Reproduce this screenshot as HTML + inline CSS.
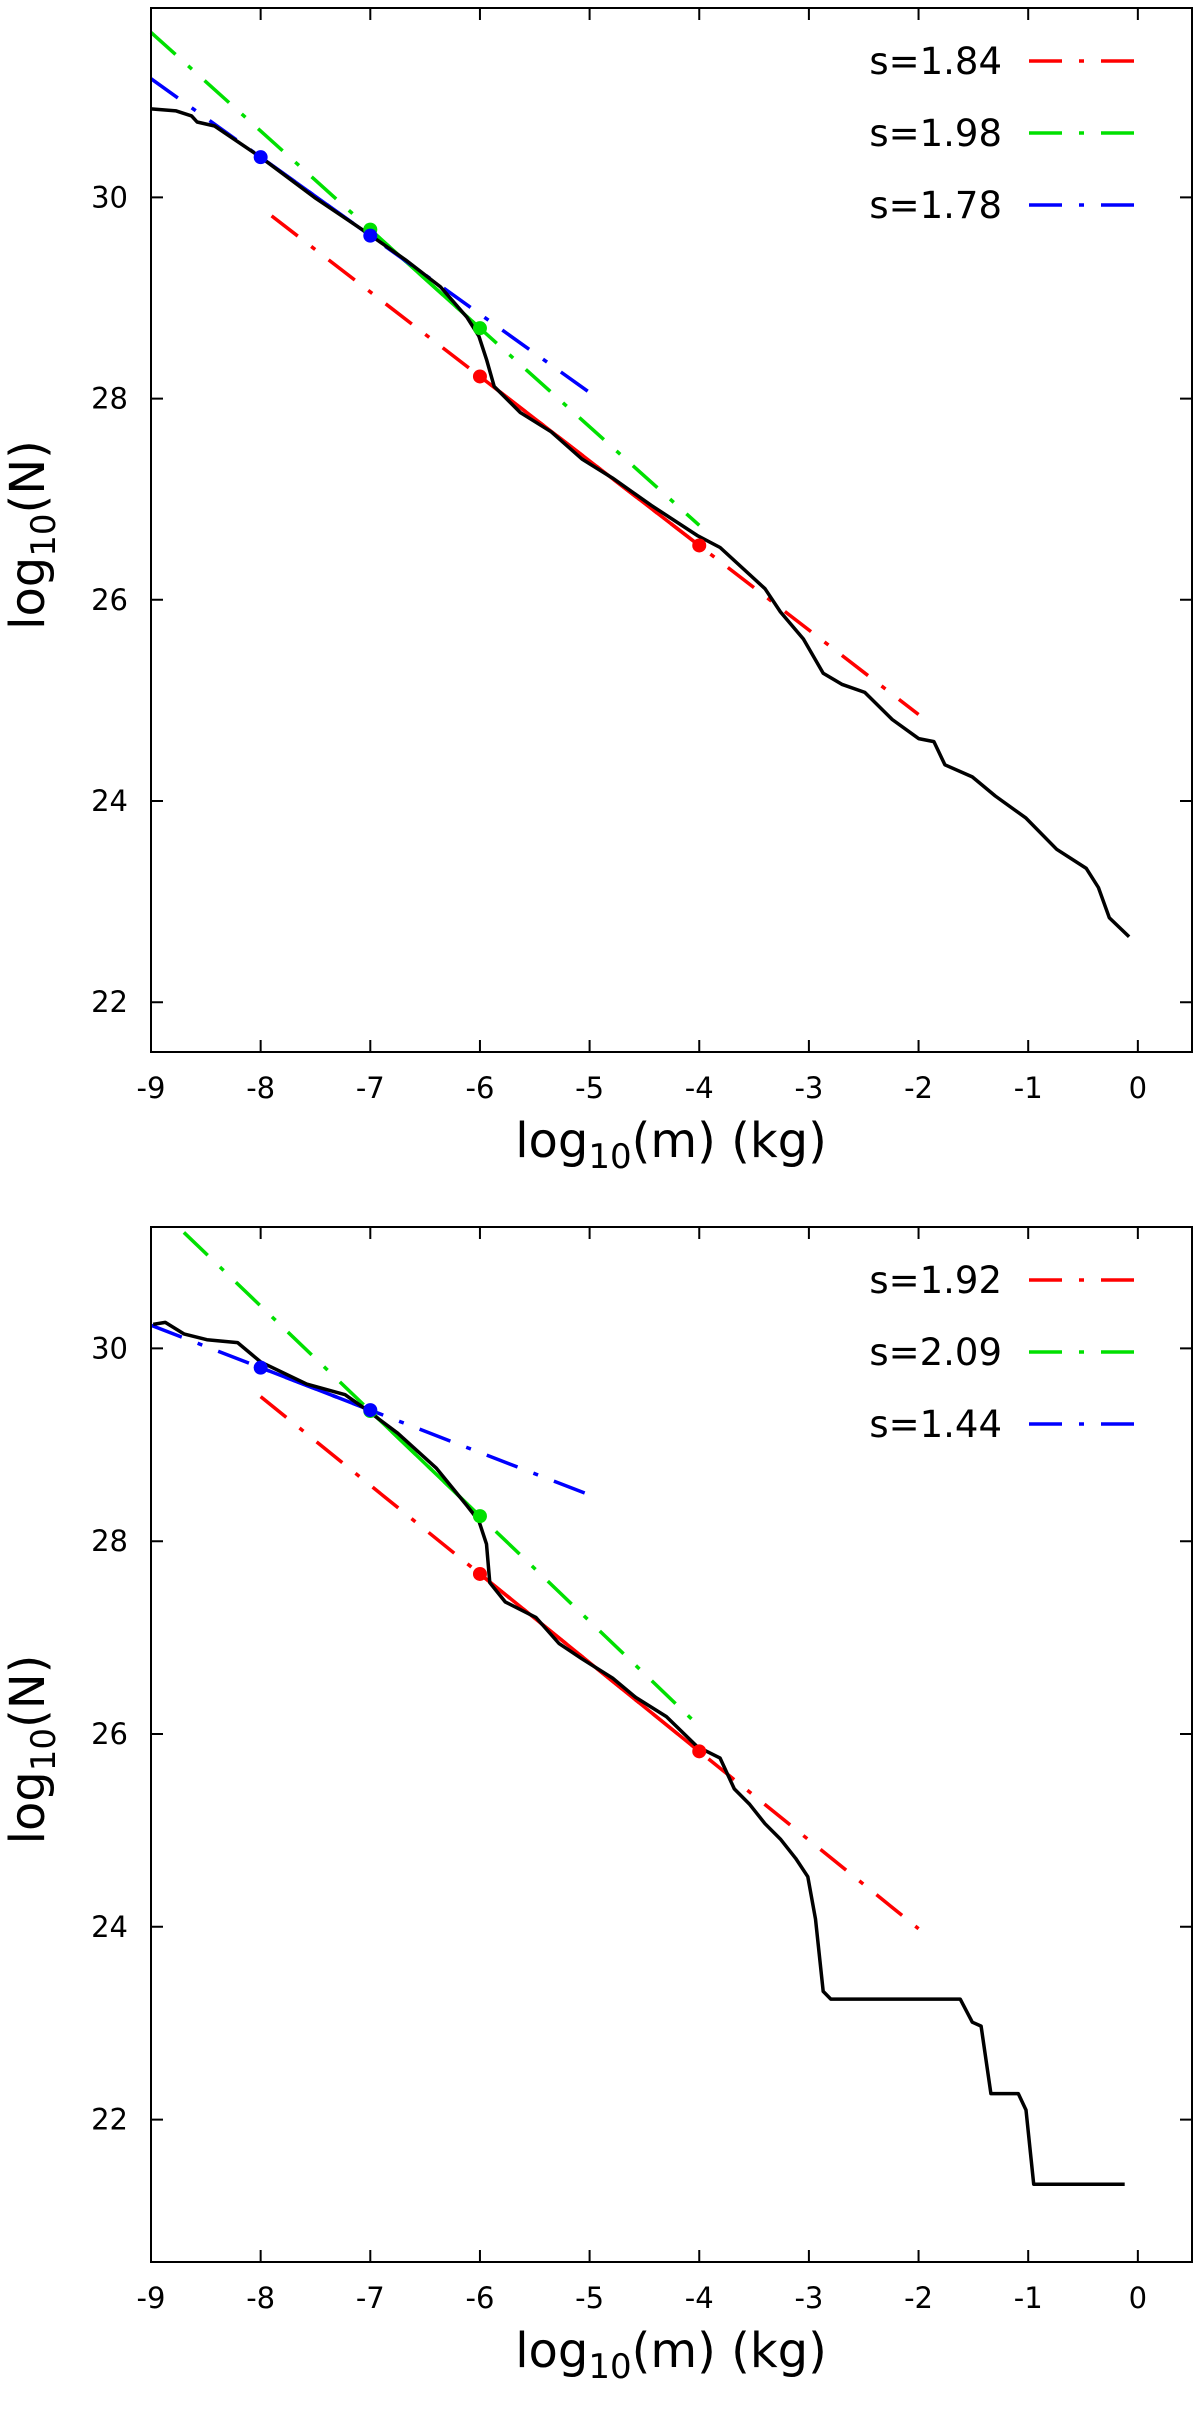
<!DOCTYPE html>
<html><head><meta charset="utf-8"><style>
body{margin:0;background:#fff}
svg{display:block;font-family:"DejaVu Sans","Liberation Sans",sans-serif}
</style></head><body>
<svg id="chart" width="1200" height="2419" viewBox="0 0 1200 2419" xmlns="http://www.w3.org/2000/svg"></svg>
<script>
const xTicks=[-9,-8,-7,-6,-5,-4,-3,-2,-1,0];
const yTicks=[22,24,26,28,30];
// top panel
const topCurveX=[-9,-8.77,-8.63,-8.58,-8.42,-8.0,-7.51,-7.02,-6.68,-6.36,-6.12,-6.01,-5.94,-5.87,-5.63,-5.35,-5.07,-4.79,-4.44,-4.02,-3.81,-3.40,-3.26,-3.05,-2.87,-2.70,-2.49,-2.24,-2.0,-1.86,-1.76,-1.51,-1.30,-1.02,-0.74,-0.47,-0.36,-0.26,-0.08];
const topCurveY=[30.88,30.86,30.81,30.75,30.71,30.40,30.0,29.64,29.38,29.11,28.81,28.62,28.39,28.12,27.86,27.67,27.40,27.21,26.94,26.64,26.52,26.11,25.88,25.61,25.27,25.16,25.08,24.81,24.62,24.59,24.36,24.24,24.05,23.83,23.52,23.33,23.14,22.84,22.65];
const topFitLabels=["s=1.84","s=1.98","s=1.78"];
const topFitSlopes=[1.84,1.98,1.78];
const topFitAnchorX=[-6,-7,-8];
const topFitAnchorY=[28.22,29.68,30.40];
const topFitPoint2X=[-4,-6,-7];
const topFitStart=[-7.9,-9,-9];
const topFitEnd=[-2,-4,-5];
// bottom panel
const botCurveX=[-8.98,-8.87,-8.70,-8.49,-8.21,-8.0,-7.58,-7.23,-7.03,-6.75,-6.40,-6.12,-6.01,-5.94,-5.91,-5.77,-5.49,-5.28,-5.07,-4.79,-4.58,-4.30,-4.02,-3.81,-3.68,-3.54,-3.40,-3.26,-3.12,-3.01,-2.94,-2.87,-2.80,-1.62,-1.51,-1.43,-1.34,-1.09,-1.02,-0.95,-0.12];
const botCurveY=[30.25,30.27,30.15,30.09,30.06,29.86,29.63,29.52,29.36,29.12,28.76,28.37,28.21,27.97,27.57,27.37,27.21,26.94,26.78,26.58,26.38,26.18,25.87,25.75,25.43,25.27,25.07,24.91,24.71,24.52,24.08,23.33,23.25,23.25,23.01,22.97,22.27,22.27,22.10,21.33,21.33];
const botFitLabels=["s=1.92","s=2.09","s=1.44"];
const botFitSlopes=[1.92,2.09,1.44];
const botFitAnchorX=[-6,-6,-8];
const botFitAnchorY=[27.66,28.26,29.80];
const botFitPoint2X=[-4,-7,-7];
const botFitStart=[-8,-8.7,-9];
const botFitEnd=[-2,-4,-5];
const colors=["#ff0000","#00e000","#0000ff"];

const svg=document.getElementById('chart');
const NS="http://www.w3.org/2000/svg";
function mk(tag,attrs,parent){const e=document.createElementNS(NS,tag);for(const k in attrs)e.setAttribute(k,attrs[k]);(parent||svg).appendChild(e);return e;}

function panel(P){
  const g=mk('g',{});
  
  
  const L=151,R=1192,T=P.top,B=P.bottom;
  const sx=x=>151+(x+9)*109.65;
  const sy=y=>P.y30-(y-30)*P.yu;
  xTicks.forEach(t=>{
    const x=sx(t);
    const tk=mk('path',{d:`M${x},${B}v-12M${x},${T}v12`,stroke:'#000','stroke-width':2},g);
    
    
    const tl=mk('text',{x:x,y:B+46,'font-size':29,'text-anchor':'middle'},g);
    tl.textContent=t;
    
    
  });
  yTicks.forEach(t=>{
    const y=sy(t);
    const tk=mk('path',{d:`M${L},${y}h12M${R},${y}h-12`,stroke:'#000','stroke-width':2},g);
    
    
    const tl=mk('text',{x:128,y:y+10,'font-size':29,'text-anchor':'end'},g);
    tl.textContent=t;
    
    
  });
  for(let i=0;i<3;i++){
    const s=P.slopes[i]-1;
    const f=x=>P.ay[i]+(x-P.ax[i])*(-s);
    const x1=P.start[i],x2=P.end[i];
    const dl=mk('line',{x1:sx(x1),y1:sy(f(x1)),x2:sx(x2),y2:sy(f(x2)),stroke:colors[i],'stroke-width':3.5,'stroke-dasharray':'33,17,5,17'},g);
    
    
    const a=Math.min(P.ax[i],P.p2[i]),b=Math.max(P.ax[i],P.p2[i]);
    const sl=mk('line',{x1:sx(a),y1:sy(f(a)),x2:sx(b),y2:sy(f(b)),stroke:colors[i],'stroke-width':3.5},g);
    
    
  }
  const pts=P.cx.map((x,i)=>sx(x).toFixed(1)+','+sy(P.cy[i]).toFixed(1)).join(' ');
  const pl=mk('polyline',{points:pts,fill:'none',stroke:'#000','stroke-width':3.5,'stroke-linejoin':'round'},g);
  
  
  for(let i=0;i<3;i++){
    const s=P.slopes[i]-1;
    [P.ax[i],P.p2[i]].forEach(x=>{
      const y=P.ay[i]+(x-P.ax[i])*(-s);
      const c=mk('circle',{cx:sx(x),cy:sy(y),r:7,fill:colors[i]},g);
      
      
    });
  }
  for(let i=0;i<3;i++){
    const y=T+53+i*72;
    const lt=mk('text',{x:1002,y:y+13,'font-size':37,'text-anchor':'end'},g);
    lt.textContent=P.labels[i];
    
    
    const ll=mk('line',{x1:1029,y1:y,x2:1138,y2:y,stroke:colors[i],'stroke-width':3.5,'stroke-dasharray':'33,17,5,17'},g);
    
    
  }
  const fr=mk('rect',{x:L,y:T,width:R-L,height:B-T,fill:'none',stroke:'#000','stroke-width':2},g);
  
  
  const xt=mk('text',{x:671,y:B+105,'font-size':48,'text-anchor':'middle'},g);
  xt.innerHTML='log<tspan font-size="34" dy="11">10</tspan><tspan dy="-11">(m) (kg)</tspan>';
  
  
  const cy=(T+B)/2;
  const yt=mk('text',{x:0,y:0,'font-size':48,'text-anchor':'middle',transform:`translate(44,${cy+5}) rotate(-90)`},g);
  yt.innerHTML='log<tspan font-size="34" dy="11">10</tspan><tspan dy="-11">(N)</tspan>';
  
  
}
panel({name:'top-panel',top:8,bottom:1052,y30:197.4,yu:100.6,cx:topCurveX,cy:topCurveY,labels:topFitLabels,slopes:topFitSlopes,ax:topFitAnchorX,ay:topFitAnchorY,p2:topFitPoint2X,start:topFitStart,end:topFitEnd});
panel({name:'bottom-panel',top:1227,bottom:2262,y30:1348.4,yu:96.4,cx:botCurveX,cy:botCurveY,labels:botFitLabels,slopes:botFitSlopes,ax:botFitAnchorX,ay:botFitAnchorY,p2:botFitPoint2X,start:botFitStart,end:botFitEnd});
</script>
</body></html>
